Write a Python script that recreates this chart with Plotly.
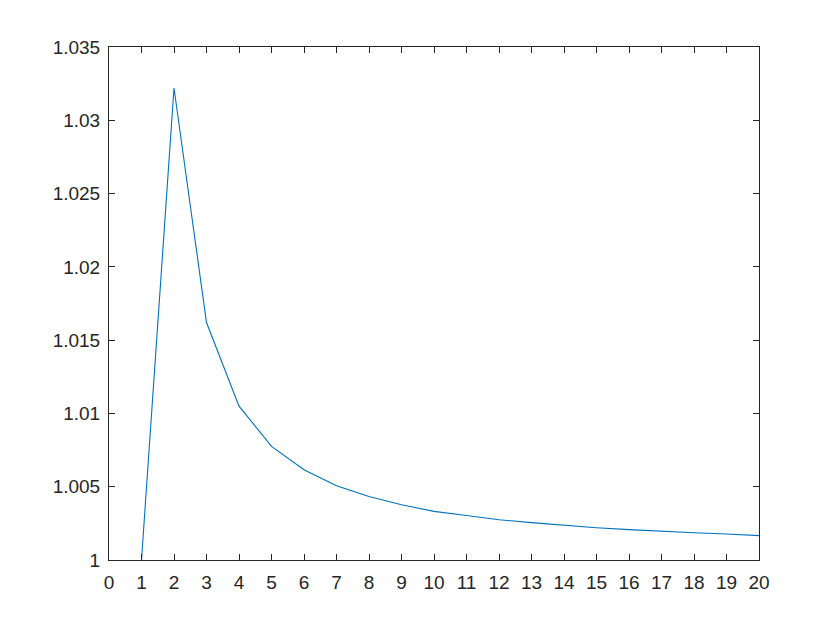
import plotly.graph_objects as go

# data
x_vals = list(range(1, 21))
y_vals = [1.0, 1.0322, 1.0162, 1.0105, 1.00775, 1.00616, 1.00507, 1.00433, 1.00377, 1.00332,
          1.00304, 1.00275, 1.00255, 1.00236, 1.0022, 1.00207, 1.00195, 1.00186, 1.00177, 1.00166]

x_ticks = list(range(0, 21))
y_ticks = [1.0, 1.005, 1.01, 1.015, 1.02, 1.025, 1.03, 1.035]
y_tick_labels = ['1', '1.005', '1.01', '1.015', '1.02', '1.025', '1.03', '1.035']

fig = go.Figure()
fig.add_trace(go.Scatter(x=x_vals, y=y_vals, mode='lines',
                         line=dict(color='#0072BD', width=1.1)))

axis_style = dict(showgrid=False, zeroline=False, showline=True, linecolor='#262626',
                  linewidth=1, mirror='ticks', ticks='inside', ticklen=6,
                  tickcolor='#262626', tickfont=dict(size=19, color='#262626'))

fig.update_xaxes(range=[0, 20], tickvals=x_ticks, ticklabelstandoff=5, **axis_style)
fig.update_yaxes(range=[1.0, 1.035], tickvals=y_ticks, ticktext=y_tick_labels,
                 ticklabelstandoff=4, **axis_style)

# page body has an 8px margin, so the figure is shrunk and shifted by that
fig.update_layout(width=832, height=622, plot_bgcolor='white', paper_bgcolor='white',
                  showlegend=False, font=dict(family='Liberation Sans, Arial'),
                  margin=dict(l=101, r=81, t=39, b=70))

fig.write_html("out.html")
